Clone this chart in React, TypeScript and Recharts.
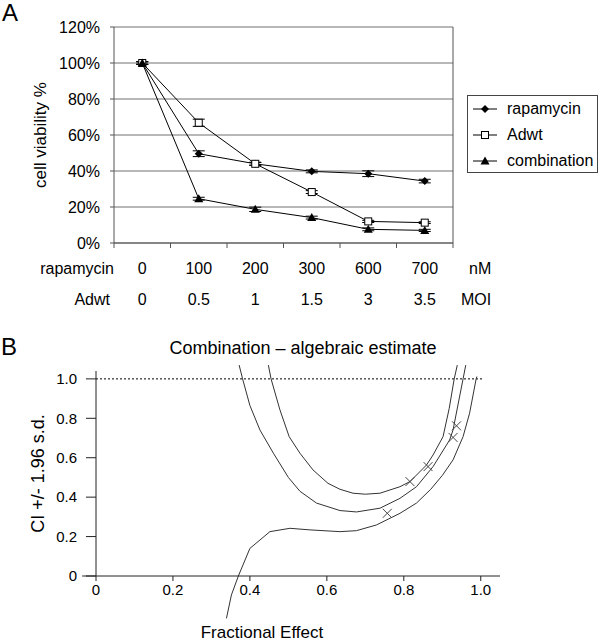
import React from "react";
import {
  LineChart,
  ComposedChart,
  Line,
  Scatter,
  XAxis,
  YAxis,
  CartesianGrid,
  ErrorBar,
  Legend,
  ReferenceLine,
} from "recharts";

const FONT = "Arial, 'Liberation Sans', sans-serif";

// panel A: viability vs dose
const rapamycinDoses = ["0", "100", "200", "300", "600", "700"];
const adwtMois = ["0", "0.5", "1", "1.5", "3", "3.5"];
const rapamycinViability = [100, 49.6, 44, 39.8, 38.5, 34.4];
const rapamycinError = [0.8, 1.6, 0.8, 0.8, 1.6, 1.0];
const adwtViability = [100, 66.8, 44, 28.3, 12, 11.3];
const adwtError = [0.8, 2.0, 0.8, 0.8, 0.6, 0.5];
const combinationViability = [100, 24.6, 18.7, 14.1, 7.6, 7.0];
const combinationError = [0.6, 0.8, 1.2, 0.8, 0.8, 0.6];
const viabilityTicks = [0, 20, 40, 60, 80, 100, 120];
const seriesOrder = ["rapamycin", "adwt", "combination"];

// panel B: CI (fa) plot, [fractional effect, CI]
const upperBound = [
  [0.448, 1.07], [0.455, 1.0], [0.478, 0.843], [0.502, 0.707], [0.53, 0.623],
  [0.564, 0.538], [0.603, 0.47], [0.634, 0.44], [0.668, 0.42], [0.7, 0.415],
  [0.738, 0.42], [0.79, 0.453], [0.816, 0.479], [0.859, 0.563], [0.876, 0.614],
  [0.902, 0.707], [0.918, 0.85], [0.931, 1.0], [0.939, 1.07],
];
const ciEstimate = [
  [0.372, 1.07], [0.381, 1.0], [0.4, 0.865], [0.426, 0.741], [0.461, 0.623],
  [0.5, 0.5], [0.53, 0.43], [0.573, 0.37], [0.634, 0.332], [0.677, 0.325],
  [0.738, 0.344], [0.79, 0.394], [0.833, 0.453], [0.876, 0.555], [0.919, 0.69],
  [0.928, 0.741], [0.954, 1.0], [0.961, 1.07],
];
const lowerBound = [
  [0.339, -0.215], [0.352, -0.096], [0.37, 0], [0.4, 0.14], [0.452, 0.225],
  [0.504, 0.242], [0.556, 0.234], [0.634, 0.225], [0.677, 0.23], [0.729, 0.259],
  [0.79, 0.318], [0.833, 0.37], [0.87, 0.44], [0.9, 0.51], [0.928, 0.589],
  [0.954, 0.707], [0.971, 0.826], [0.988, 1.0], [0.99, 1.012],
];
const ciPoints = [
  [0.757, 0.318], [0.816, 0.479], [0.863, 0.555], [0.928, 0.703], [0.937, 0.762],
];
const fracTicks = [0, 0.2, 0.4, 0.6, 0.8, 1.0];
const ciTicks = [0, 0.2, 0.4, 0.6, 0.8, 1.0];

const viabilityData = rapamycinDoses.map((dose, i) => ({
  pos: i + 0.5,
  rapamycin: rapamycinViability[i],
  rapamycinErr: rapamycinError[i],
  adwt: adwtViability[i],
  adwtErr: adwtError[i],
  combination: combinationViability[i],
  combinationErr: combinationError[i],
}));

// group boundaries get a tick mark, group centres get the dose labels
const doseAxisTicks = Array.from({ length: 13 }, (_, k) => k / 2);

const toPoints = (pairs: number[][]) => pairs.map(([x, y]) => ({ x, y }));

const fmtDecimal = (v: number) => (v === 0 ? "0" : v.toFixed(1));

function Diamond(p: any) {
  const { cx, cy, index } = p;
  if (cx == null || cy == null) return <g key={`d${index}`} />;
  return <path key={`d${index}`} d={`M${cx},${cy - 4}L${cx + 4},${cy}L${cx},${cy + 4}L${cx - 4},${cy}Z`} fill="#000" />;
}

function Square(p: any) {
  const { cx, cy, index } = p;
  if (cx == null || cy == null) return <g key={`s${index}`} />;
  return <rect key={`s${index}`} x={cx - 3.5} y={cy - 3.5} width={7} height={7} fill="#fff" stroke="#000" />;
}

function Triangle(p: any) {
  const { cx, cy, index } = p;
  if (cx == null || cy == null) return <g key={`t${index}`} />;
  return <path key={`t${index}`} d={`M${cx},${cy - 4.5}L${cx + 4.5},${cy + 3.5}L${cx - 4.5},${cy + 3.5}Z`} fill="#000" />;
}

function Cross(p: any) {
  const { cx, cy } = p;
  return (
    <path
      d={`M${cx - 4.5},${cy - 4.5}L${cx + 4.5},${cy + 4.5}M${cx - 4.5},${cy + 4.5}L${cx + 4.5},${cy - 4.5}`}
      stroke="#444"
      strokeWidth={1}
      fill="none"
    />
  );
}

const markerFor: Record<string, (p: any) => React.ReactElement> = {
  rapamycin: Diamond,
  adwt: Square,
  combination: Triangle,
};

function DoseTick(props: any) {
  const { x, y, payload } = props;
  const v = payload.value;
  if (Number.isInteger(v)) {
    return <line x1={x} y1={y} x2={x} y2={y + 5} stroke="#555" />;
  }
  const i = Math.floor(v);
  return (
    <g>
      <text x={x} y={y + 31} textAnchor="middle" fontSize={16} fill="#000" fontFamily={FONT}>
        {rapamycinDoses[i]}
      </text>
      <text x={x} y={y + 62} textAnchor="middle" fontSize={16} fill="#000" fontFamily={FONT}>
        {adwtMois[i]}
      </text>
    </g>
  );
}

function LegendBox(props: any) {
  const { payload = [] } = props;
  const items = [...payload].sort(
    (a: any, b: any) => seriesOrder.indexOf(a.dataKey) - seriesOrder.indexOf(b.dataKey)
  );
  return (
    <div
      style={{
        border: "1px solid #444",
        height: 78,
        boxSizing: "border-box",
        paddingLeft: 5,
        background: "#fff",
        fontFamily: FONT,
        fontSize: 16,
      }}
    >
      {items.map((entry: any) => {
        const Marker = markerFor[entry.dataKey];
        return (
          <div key={entry.dataKey} style={{ display: "flex", alignItems: "center", height: 26 }}>
            <svg width={24} height={12} style={{ marginRight: 10 }}>
              <line x1={0} y1={6} x2={24} y2={6} stroke="#000" />
              <Marker cx={12} cy={6} index={0} />
            </svg>
            <span style={{ color: "#000" }}>{entry.value}</span>
          </div>
        );
      })}
    </div>
  );
}

const overlay = (left: number, top: number, size: number, anchor: string): React.CSSProperties => ({
  position: "absolute",
  left,
  top,
  fontSize: size,
  lineHeight: 1,
  whiteSpace: "nowrap",
  color: "#000",
  transform: anchor,
});

export default function App() {
  const tickStyle = { fill: "#000", fontSize: 16, fontFamily: FONT };
  const tickStyleB = { fill: "#000", fontSize: 15, fontFamily: FONT };
  return (
    <div style={{ position: "absolute", left: 0, top: 0, width: 600, height: 642, background: "#fff", fontFamily: FONT }}>
      <style>{".recharts-line, .recharts-line * { clip-path: none !important; }"}</style>

      <div style={{ position: "absolute", left: 0, top: 0 }}>
        <LineChart width={600} height={320} data={viabilityData} margin={{ top: 27, right: 146, bottom: 6, left: 54 }}>
          <CartesianGrid yAxisId="left" vertical={false} stroke="#707070" />
          <XAxis
            type="number"
            dataKey="pos"
            domain={[0, 6]}
            ticks={doseAxisTicks}
            interval={0}
            tickLine={false}
            tickSize={0}
            tickMargin={0}
            tick={<DoseTick />}
            height={71}
            stroke="#555"
          />
          <YAxis
            yAxisId="left"
            domain={[0, 120]}
            ticks={viabilityTicks}
            tickFormatter={(v: number) => `${v}%`}
            width={60}
            tickSize={4}
            tickMargin={10}
            stroke="#555"
            tick={tickStyle}
            label={{
              value: "cell viability %",
              angle: -90,
              position: "insideLeft",
              offset: -14,
              style: { textAnchor: "middle", fill: "#000", fontSize: 17, fontFamily: FONT },
            }}
          />
          <YAxis yAxisId="right" orientation="right" domain={[0, 120]} width={1} tick={false} tickLine={false} stroke="#555" />
          <Legend
            layout="vertical"
            align="center"
            verticalAlign="middle"
            content={<LegendBox />}
            wrapperStyle={{ left: 467, top: 95, width: 131, height: 78 }}
          />
          <Line
            yAxisId="left"
            dataKey="rapamycin"
            name="rapamycin"
            stroke="#000"
            strokeWidth={1}
            dot={Diamond}
            activeDot={false}
            isAnimationActive={false}
          >
            <ErrorBar dataKey="rapamycinErr" width={6} stroke="#000" strokeWidth={1} direction="y" />
          </Line>
          <Line
            yAxisId="left"
            dataKey="adwt"
            name="Adwt"
            stroke="#000"
            strokeWidth={1}
            dot={Square}
            activeDot={false}
            isAnimationActive={false}
          >
            <ErrorBar dataKey="adwtErr" width={6} stroke="#000" strokeWidth={1} direction="y" />
          </Line>
          <Line
            yAxisId="left"
            dataKey="combination"
            name="combination"
            stroke="#000"
            strokeWidth={1}
            dot={Triangle}
            activeDot={false}
            isAnimationActive={false}
          >
            <ErrorBar dataKey="combinationErr" width={6} stroke="#000" strokeWidth={1} direction="y" />
          </Line>
        </LineChart>
      </div>

      <div style={{ position: "absolute", left: 0, top: 330 }}>
        <ComposedChart width={600} height={312} margin={{ top: 41, right: 100, bottom: 36, left: 46 }}>
          <XAxis
            type="number"
            dataKey="x"
            domain={[0, 1.05]}
            ticks={fracTicks}
            tickFormatter={fmtDecimal}
            tickSize={5}
            tickMargin={3}
            height={30}
            stroke="#222"
            tick={tickStyleB}
          />
          <YAxis
            type="number"
            dataKey="y"
            domain={[0, 1.04]}
            allowDataOverflow
            ticks={ciTicks}
            tickFormatter={fmtDecimal}
            tickSize={10}
            tickMargin={9}
            width={50}
            stroke="#222"
            tick={tickStyleB}
            label={{
              value: "CI +/- 1.96 s.d.",
              angle: -90,
              position: "insideLeft",
              offset: -8,
              style: { textAnchor: "middle", fill: "#000", fontSize: 18, fontFamily: FONT },
            }}
          />
          <ReferenceLine
            segment={[{ x: 0, y: 1 }, { x: 1.005, y: 1 }]}
            stroke="#000"
            strokeDasharray="2 2"
            ifOverflow="visible"
          />
          <ReferenceLine segment={[{ x: -0.036, y: 0 }, { x: 0, y: 0 }]} stroke="#222" ifOverflow="visible" />
          <Line data={toPoints(upperBound)} dataKey="y" type="linear" stroke="#333" strokeWidth={1} dot={false} activeDot={false} isAnimationActive={false} />
          <Line data={toPoints(ciEstimate)} dataKey="y" type="linear" stroke="#333" strokeWidth={1} dot={false} activeDot={false} isAnimationActive={false} />
          <Line data={toPoints(lowerBound)} dataKey="y" type="linear" stroke="#333" strokeWidth={1} dot={false} activeDot={false} isAnimationActive={false} />
          <Scatter data={toPoints(ciPoints)} dataKey="y" shape={Cross} isAnimationActive={false} />
        </ComposedChart>
      </div>

      <div style={overlay(2, 1, 24, "none")}>A</div>
      <div style={overlay(114, 269, 16, "translate(-100%, -50%)")}>rapamycin</div>
      <div style={overlay(110, 300, 16, "translate(-100%, -50%)")}>Adwt</div>
      <div style={overlay(469, 269, 16, "translate(0, -50%)")}>nM</div>
      <div style={overlay(461, 300, 16, "translate(0, -50%)")}>MOI</div>

      <div style={overlay(1, 335, 24, "none")}>B</div>
      <div style={overlay(303, 348, 18, "translate(-50%, -50%)")}>Combination – algebraic estimate</div>
      <div style={overlay(262, 632, 17, "translate(-50%, -50%)")}>Fractional Effect</div>
    </div>
  );
}
